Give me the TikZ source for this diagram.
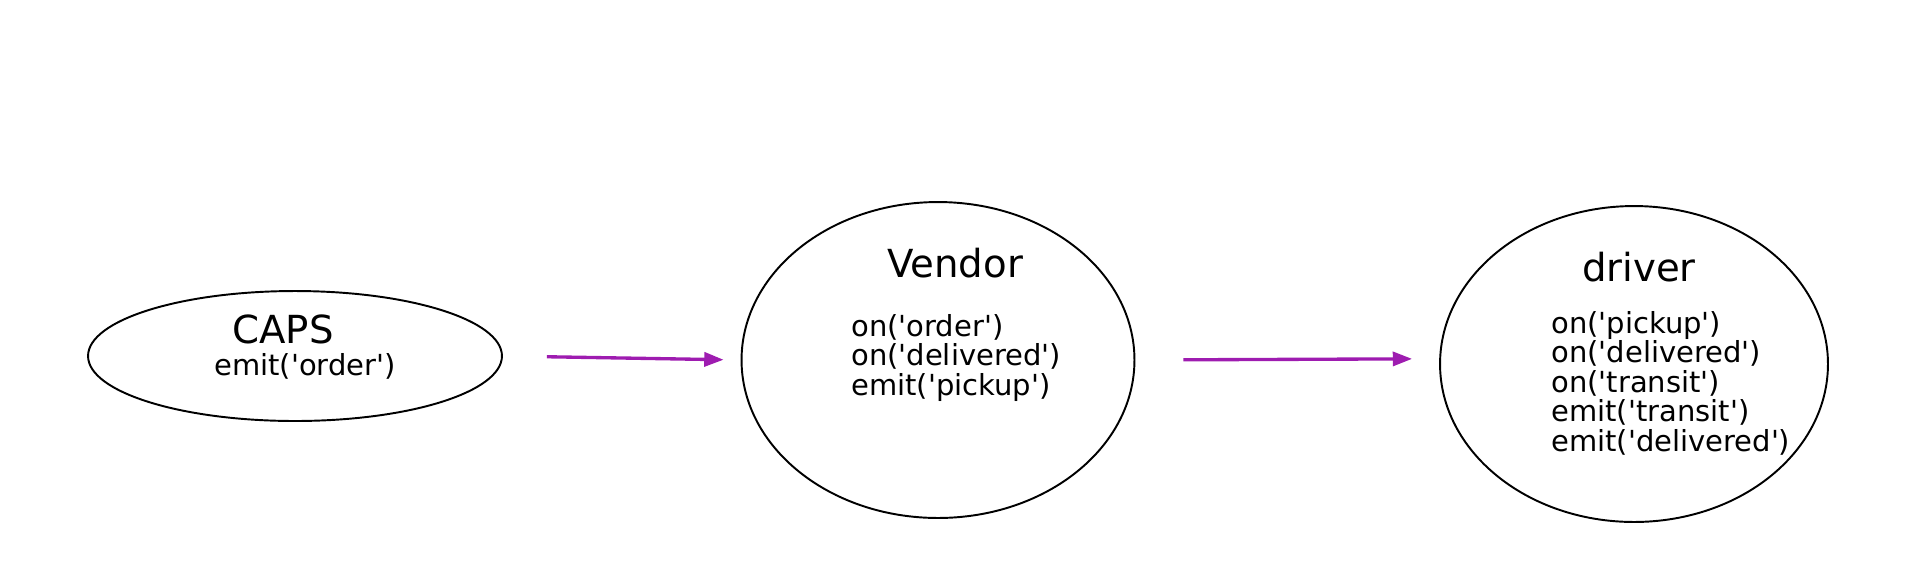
\documentclass[tikz,border=0pt]{standalone}
\usepackage{fontspec}
\setmainfont{DejaVu Sans}[Ligatures=TeXOff]
\usetikzlibrary{shapes.geometric, arrows.meta}
\definecolor{edgepurple}{RGB}{158,28,176}

\begin{document}
\begin{tikzpicture}[x=0.02cm, y=-0.02cm,
    actor/.style={draw, ellipse, line width=1.1pt, inner sep=0pt},
    actorname/.style={font=\fontsize{22}{26}\selectfont, inner sep=0pt},
    handlers/.style={font=\fontsize{16.5}{16.8}\selectfont, align=left, inner sep=0pt},
    flow/.style={draw=edgepurple, line width=1.9pt, -{Triangle[length=11pt, width=8pt]}}]
    \useasboundingbox (0,0) rectangle (1920,583);

    % Elipses dos atores
    \node[actor, minimum width=8.28cm, minimum height=2.6cm] (caps) at (295,356) {};
    \node[actor, minimum width=7.86cm, minimum height=6.32cm] (vendor) at (938,360) {};
    \node[actor, minimum width=7.76cm, minimum height=6.32cm] (driver) at (1634,364) {};

    % Nomes e eventos
    \node[actorname, anchor=base] (capsname) at (283,343) {CAPS};
    \node[handlers, anchor=base west] (capsevents) at (214,375) {emit('order')};

    \node[actorname, anchor=base] (vendorname) at (955,277) {Vendor};
    \node[handlers, anchor=north west] (vendorevents) at (851,314)
        {on('order')\\on('delivered')\\emit('pickup')};

    \node[actorname, anchor=base] (drivername) at (1639,281) {driver};
    \node[handlers, anchor=north west] (driverevents) at (1551,311)
        {on('pickup')\\on('delivered')\\on('transit')\\emit('transit')\\emit('delivered')};

    % Setas entre os atores
    \draw[flow, shorten <=0.88cm, shorten >=0.34cm] (caps.east) -- (vendor.west);
    \draw[flow, shorten <=0.96cm, shorten >=0.54cm] (vendor.east) -- ([yshift=3pt]driver.west);
\end{tikzpicture}
\end{document}
